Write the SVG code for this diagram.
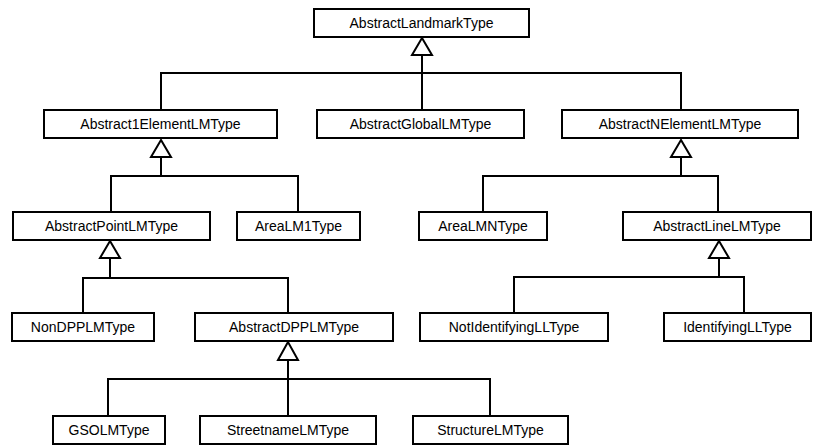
<svg xmlns="http://www.w3.org/2000/svg" width="813" height="447" viewBox="0 0 813 447">
<style>
.box{fill:#fff;stroke:#000;stroke-width:2}
.lbl{font-family:"Liberation Sans",Arial,sans-serif;font-size:14px;fill:#000;text-anchor:middle}
.c{fill:none;stroke:#000;stroke-width:2}
.tri{fill:#fff;stroke:#000;stroke-width:2;stroke-linejoin:miter}
</style>
<rect width="813" height="447" fill="#fff"/>
<g id="connectors">
<path class="c" d="M422,55V110M161,110V73H681V110"/>
<polygon class="tri" points="422,38 412,55 432,55"/>
<path class="c" d="M161,157V176M111,212V176H298V212"/>
<polygon class="tri" points="161,140 151,157 171,157"/>
<path class="c" d="M681,157V176M483,212V176H718V212"/>
<polygon class="tri" points="681,140 671,157 691,157"/>
<path class="c" d="M110,258V278M83,313V278H288V313"/>
<polygon class="tri" points="110,241 100,258 120,258"/>
<path class="c" d="M719,258V277M514,313V277H744V313"/>
<polygon class="tri" points="719,241 709,258 729,258"/>
<path class="c" d="M288,360V416M108,416V379H490V416"/>
<polygon class="tri" points="288,342 278,360 298,360"/>
</g>
<g id="n1"><rect class="box" x="314" y="9" width="215" height="28"/><text class="lbl" x="421.5" y="28">AbstractLandmarkType</text></g>
<g id="n2"><rect class="box" x="44" y="110" width="233" height="28"/><text class="lbl" x="160.5" y="129">Abstract1ElementLMType</text></g>
<g id="n3"><rect class="box" x="317" y="110" width="207" height="28"/><text class="lbl" x="420.5" y="129">AbstractGlobalLMType</text></g>
<g id="n4"><rect class="box" x="562" y="110" width="236" height="28"/><text class="lbl" x="680" y="129">AbstractNElementLMType</text></g>
<g id="n5"><rect class="box" x="13" y="212" width="197" height="28"/><text class="lbl" x="111.5" y="231">AbstractPointLMType</text></g>
<g id="n6"><rect class="box" x="237" y="212" width="123" height="28"/><text class="lbl" x="298.5" y="231">AreaLM1Type</text></g>
<g id="n7"><rect class="box" x="419" y="212" width="128" height="28"/><text class="lbl" x="483" y="231">AreaLMNType</text></g>
<g id="n8"><rect class="box" x="623" y="212" width="188" height="28"/><text class="lbl" x="717" y="231">AbstractLineLMType</text></g>
<g id="n9"><rect class="box" x="12" y="313" width="142" height="28"/><text class="lbl" x="83" y="332">NonDPPLMType</text></g>
<g id="n10"><rect class="box" x="195" y="313" width="198" height="28"/><text class="lbl" x="294" y="332">AbstractDPPLMType</text></g>
<g id="n11"><rect class="box" x="420" y="313" width="188" height="28"/><text class="lbl" x="514" y="332">NotIdentifyingLLType</text></g>
<g id="n12"><rect class="box" x="664" y="313" width="147" height="28"/><text class="lbl" x="737.5" y="332">IdentifyingLLType</text></g>
<g id="n13"><rect class="box" x="53" y="416" width="112" height="28"/><text class="lbl" x="109" y="435">GSOLMType</text></g>
<g id="n14"><rect class="box" x="200" y="416" width="176" height="28"/><text class="lbl" x="288" y="435">StreetnameLMType</text></g>
<g id="n15"><rect class="box" x="413" y="416" width="155" height="28"/><text class="lbl" x="490.5" y="435">StructureLMType</text></g>
</svg>
